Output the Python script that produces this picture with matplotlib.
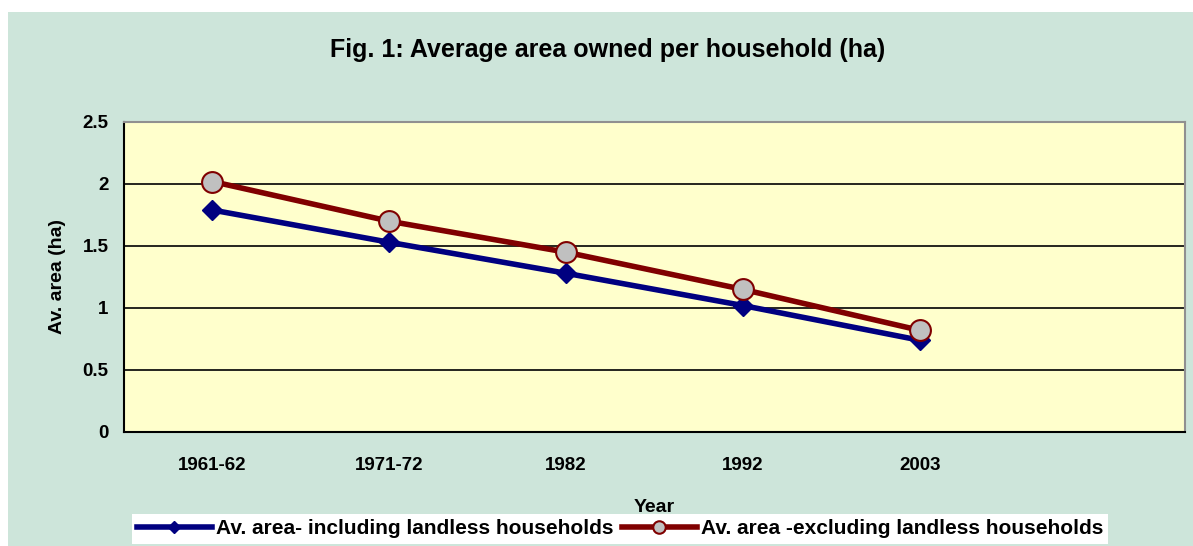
import numpy as np
import matplotlib.pyplot as plt

plt.rcParams['font.family'] = ['Liberation Sans', 'DejaVu Sans']
plt.rcParams['font.weight'] = 'bold'

years = ['1961-62', '1971-72', '1982', '1992', '2003']
incl_landless = [1.79, 1.53, 1.28, 1.02, 0.74]
excl_landless = [2.02, 1.70, 1.45, 1.15, 0.82]

fig = plt.figure(figsize=(11.93, 5.46), dpi=100)
fig.patch.set_facecolor('white')
# green chart area
fig.patches.append(plt.Rectangle((8 / 1193, 0), 1185 / 1193, 1 - 12 / 546,
                                 transform=fig.transFigure, facecolor='#cde5da',
                                 edgecolor='none', zorder=-10))

ax = fig.add_axes([124 / 1193, 1 - 432 / 546, (1185 - 124) / 1193, (432 - 122) / 546])
ax.set_facecolor('#ffffcc')

x = np.arange(len(years))
ax.plot(x, incl_landless, color='#000080', lw=4, marker='D', ms=10,
        mfc='#000080', mec='#000080', label='Av. area- including landless households', zorder=3)
ax.plot(x, excl_landless, color='#800000', lw=4, marker='o', ms=15,
        mfc='#c0c0c0', mec='#800000', mew=1.5, label='Av. area -excluding landless households', zorder=4)

ax.set_xlim(-0.5, 5.5)
ax.set_ylim(0, 2.5)
ax.set_xticks(x)
ax.set_xticklabels(years)
ax.set_yticks([0, 0.5, 1, 1.5, 2, 2.5])
ax.set_yticklabels(['0', '0.5', '1', '1.5', '2', '2.5'])
ax.tick_params(length=0, labelsize=13.5)
ax.tick_params(axis='y', pad=11)
ax.tick_params(axis='x', pad=18)
ax.yaxis.grid(True, color='black', lw=1.2)
ax.set_axisbelow(True)
for s in ['left', 'bottom']:
    ax.spines[s].set_color('black')
    ax.spines[s].set_linewidth(1.5)
for s in ['top', 'right']:
    ax.spines[s].set_color('#909090')
    ax.spines[s].set_linewidth(1.5)

ax.set_ylabel('Av. area (ha)', fontsize=14, fontweight='bold', labelpad=12)
ax.set_xlabel('Year', fontsize=14, fontweight='bold', labelpad=18)
fig.text(608 / 1193, 1 - 50 / 546, 'Fig. 1: Average area owned per household (ha)',
         ha='center', va='center', fontsize=18, fontweight='bold')

leg = fig.legend(loc='center', bbox_to_anchor=(620 / 1193, 1 - 529 / 546), ncol=2,
                 frameon=True, fancybox=False, fontsize=15, handlelength=3.6,
                 markerscale=0.6, columnspacing=0.4, handletextpad=0.2, borderpad=0.25)
leg.get_frame().set_facecolor('white')
leg.get_frame().set_edgecolor('none')
leg.get_frame().set_alpha(1)

fig.savefig('out.png', dpi=100)
